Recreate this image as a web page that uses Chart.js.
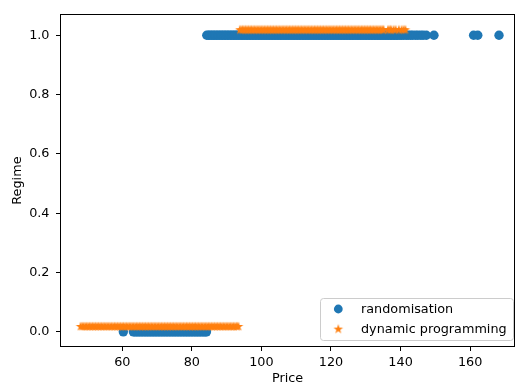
<!DOCTYPE html>
<html><head><meta charset="utf-8">
<style>html,body{margin:0;padding:0;background:#fff}#wrap{width:524px;height:389px;position:relative}</style>
<script src="https://cdn.jsdelivr.net/npm/chart.js@4.4.0/dist/chart.umd.min.js"></script>
</head><body><div id="wrap"><canvas id="c" width="524" height="389" style="width:524px;height:389px"></canvas></div>
<script>
// ---- data ----
const seriesNames = ['randomisation', 'dynamic programming'];
const xTicks = [60, 80, 100, 120, 140, 160];
const yTicks = [0.0, 0.2, 0.4, 0.6, 0.8, 1.0];

// randomisation: prices classified as regime 0 and regime 1
const randRegime0Price = [60.3, 63.2, 63.6, 64.1, 64.5, 65.0, 65.4, 65.9, 66.3, 66.8, 67.2, 67.7, 68.1, 68.6, 69.0, 69.5, 69.9, 70.4, 70.8, 71.3, 71.7, 72.2, 72.6, 73.1, 73.5, 74.0, 74.4, 74.9, 75.3, 75.8, 76.2, 76.7, 77.1, 77.6, 78.0, 78.5, 78.9, 79.4, 79.8, 80.3, 80.7, 81.2, 81.6, 82.1, 82.5, 83.0, 83.4, 83.9, 84.2];
const randRegime1Price = [84.3, 84.8, 85.2, 85.7, 86.1, 86.6, 87.0, 87.5, 87.9, 88.4, 88.8, 89.3, 89.7, 90.2, 90.6, 91.1, 91.5, 92.0, 92.4, 92.9, 93.3, 93.8, 94.2, 94.7, 95.1, 95.6, 96.0, 96.5, 96.9, 97.4, 97.8, 98.3, 98.7, 99.2, 99.6, 100.1, 100.5, 101.0, 101.4, 101.9, 102.3, 102.8, 103.2, 103.7, 104.1, 104.6, 105.0, 105.5, 105.9, 106.4, 106.8, 107.3, 107.7, 108.2, 108.6, 109.1, 109.5, 110.0, 110.4, 110.9, 111.3, 111.8, 112.2, 112.7, 113.1, 113.6, 114.0, 114.5, 114.9, 115.4, 115.8, 116.3, 116.7, 117.2, 117.6, 118.1, 118.5, 119.0, 119.4, 119.9, 120.3, 120.8, 121.2, 121.7, 122.1, 122.6, 123.0, 123.5, 123.9, 124.4, 124.8, 125.3, 125.7, 126.2, 126.6, 127.1, 127.5, 128.0, 128.4, 128.9, 129.3, 129.8, 130.2, 130.7, 131.1, 131.6, 132.0, 132.5, 132.9, 133.4, 133.8, 134.3, 134.7, 135.2, 135.6, 136.1, 136.5, 137.0, 137.4, 137.9, 138.3, 138.8, 139.2, 139.8, 140.3, 140.9, 141.6, 142.2, 142.9, 143.5, 144.3, 145.0, 145.8, 146.5, 147.4, 149.6, 161.0, 162.2, 168.3];
const randRegimeValues = [0, 1];

// dynamic programming: prices classified as regime 0 and regime 1 (plotted with +0.02 offset)
const dpRegime0Price = [48.0, 48.5, 48.9, 49.4, 49.8, 50.3, 50.7, 51.2, 51.6, 52.1, 52.5, 53.0, 53.4, 53.9, 54.3, 54.8, 55.2, 55.7, 56.1, 56.6, 57.0, 57.5, 57.9, 58.4, 58.8, 59.3, 59.7, 60.2, 60.6, 61.1, 61.5, 62.0, 62.4, 62.9, 63.3, 63.8, 64.2, 64.7, 65.1, 65.6, 66.0, 66.5, 66.9, 67.4, 67.8, 68.3, 68.7, 69.2, 69.6, 70.1, 70.5, 71.0, 71.4, 71.9, 72.3, 72.8, 73.2, 73.7, 74.1, 74.6, 75.0, 75.5, 75.9, 76.4, 76.8, 77.3, 77.7, 78.2, 78.6, 79.1, 79.5, 80.0, 80.4, 80.9, 81.3, 81.8, 82.2, 82.7, 83.1, 83.6, 84.0, 84.5, 84.9, 85.4, 85.8, 86.3, 86.7, 87.2, 87.6, 88.1, 88.5, 89.0, 89.4, 89.9, 90.3, 90.8, 91.2, 91.7, 92.1, 92.6, 93.0, 93.4];
const dpRegime1Price = [93.8, 94.3, 94.7, 95.2, 95.6, 96.1, 96.5, 97.0, 97.4, 97.9, 98.3, 98.8, 99.2, 99.7, 100.1, 100.6, 101.0, 101.5, 101.9, 102.4, 102.8, 103.3, 103.7, 104.2, 104.6, 105.1, 105.5, 106.0, 106.4, 106.9, 107.3, 107.8, 108.2, 108.7, 109.1, 109.6, 110.0, 110.5, 110.9, 111.4, 111.8, 112.3, 112.7, 113.2, 113.6, 114.1, 114.5, 115.0, 115.4, 115.9, 116.3, 116.8, 117.2, 117.7, 118.1, 118.6, 119.0, 119.5, 119.9, 120.4, 120.8, 121.3, 121.7, 122.2, 122.6, 123.1, 123.5, 124.0, 124.4, 124.9, 125.3, 125.8, 126.2, 126.7, 127.1, 127.6, 128.0, 128.5, 128.9, 129.4, 129.8, 130.3, 130.7, 131.2, 131.6, 132.1, 132.5, 133.0, 133.4, 133.9, 134.3, 134.8, 135.1, 136.4, 136.9, 137.3, 138.0, 138.6, 139.5, 140.3, 140.9, 141.4];
const dpRegimeValues = [0.02, 1.02];

const BLUE = '#1f77b4', ORANGE = '#ff7f0e';
const FONT = {family: "'DejaVu Sans', sans-serif", size: 12.8};

function pts(xs, y) { return xs.map(x => ({x: x, y: y})); }

// filled five-point star marker
function makeStar(R, color) {
  const s = Math.ceil(R * 2 + 4);
  const cv = document.createElement('canvas');
  cv.width = s; cv.height = s;
  const g = cv.getContext('2d');
  const c = s / 2, r = R * 0.4;
  g.beginPath();
  for (let i = 0; i < 10; i++) {
    const rad = i % 2 === 0 ? R : r;
    const a = -Math.PI / 2 + i * Math.PI / 5;
    const px = c + rad * Math.cos(a), py = c + 0.6 + rad * Math.sin(a);
    if (i === 0) g.moveTo(px, py); else g.lineTo(px, py);
  }
  g.closePath();
  g.fillStyle = color; g.fill();
  return cv;
}
const starImg = makeStar(5.0, ORANGE);

const framePlugin = {
  id: 'frameAndLegend',
  afterDraw(chart) {
    const ctx = chart.ctx, a = chart.chartArea;
    ctx.save();
    ctx.strokeStyle = '#000'; ctx.lineWidth = 1;
    ctx.strokeRect(Math.round(a.left) + 0.5, Math.round(a.top) + 0.5,
                   Math.round(a.right - a.left) - 1, Math.round(a.bottom - a.top) - 1);
    // legend
    const lx = 320.5, ly = 298.5, lw = 193, lh = 42, rr = 3;
    ctx.beginPath();
    ctx.moveTo(lx + rr, ly); ctx.lineTo(lx + lw - rr, ly); ctx.quadraticCurveTo(lx + lw, ly, lx + lw, ly + rr);
    ctx.lineTo(lx + lw, ly + lh - rr); ctx.quadraticCurveTo(lx + lw, ly + lh, lx + lw - rr, ly + lh);
    ctx.lineTo(lx + rr, ly + lh); ctx.quadraticCurveTo(lx, ly + lh, lx, ly + lh - rr);
    ctx.lineTo(lx, ly + rr); ctx.quadraticCurveTo(lx, ly, lx + rr, ly);
    ctx.closePath();
    ctx.fillStyle = 'rgba(255,255,255,0.8)'; ctx.fill();
    ctx.strokeStyle = '#cccccc'; ctx.stroke();
    const ds = chart.data.datasets;
    ctx.fillStyle = BLUE;
    ctx.beginPath(); ctx.arc(338.3, 309, 4.4, 0, Math.PI * 2); ctx.fill();
    ctx.drawImage(starImg, 338.3 - starImg.width / 2, 328.6 - starImg.height / 2);
    ctx.fillStyle = '#000';
    ctx.font = FONT.size + 'px ' + FONT.family;
    ctx.textBaseline = 'middle'; ctx.textAlign = 'left';
    ctx.fillText(ds[0].label, 361, 309.5);
    ctx.fillText(ds[1].label, 361, 329.5);
    ctx.restore();
  }
};

new Chart(document.getElementById('c'), {
  type: 'scatter',
  data: {
    datasets: [
      {
        label: seriesNames[0],
        data: pts(randRegime0Price, randRegimeValues[0]).concat(pts(randRegime1Price, randRegimeValues[1])),
        backgroundColor: BLUE, borderWidth: 0, pointRadius: 4.7, pointHoverRadius: 4.7, order: 1
      },
      {
        label: seriesNames[1],
        data: pts(dpRegime0Price, dpRegimeValues[0]).concat(pts(dpRegime1Price, dpRegimeValues[1])),
        pointStyle: starImg, backgroundColor: ORANGE, borderWidth: 0, pointRadius: 5.0, order: 0
      }
    ]
  },
  options: {
    responsive: false, animation: false,
    layout: {padding: {left: 0, right: 9, top: 5, bottom: 0}},
    plugins: {legend: {display: false}, tooltip: {enabled: false}},
    events: [],
    scales: {
      x: {
        type: 'linear', min: 42.1, max: 172.9,
        afterBuildTicks: s => { s.ticks = xTicks.map(v => ({value: v})); },
        afterFit: s => { s.height = 42; },
        ticks: {font: FONT, color: '#000', padding: 3.5, maxRotation: 0, callback: v => String(v)},
        grid: {display: true, drawOnChartArea: false, drawTicks: true, tickLength: 4, color: '#000', lineWidth: 1},
        border: {display: false},
        title: {display: true, text: 'Price', font: FONT, color: '#000', padding: {top: 0, bottom: 2.5}}
      },
      y: {
        type: 'linear', min: -0.051, max: 1.071,
        afterBuildTicks: s => { s.ticks = yTicks.map(v => ({value: v})); },
        afterFit: s => { s.width = 60; },
        ticks: {font: FONT, color: '#000', padding: 6.5, callback: v => Number(v).toFixed(1)},
        grid: {display: true, drawOnChartArea: false, drawTicks: true, tickLength: 4, color: '#000', lineWidth: 1},
        border: {display: false},
        title: {display: true, text: 'Regime', font: FONT, color: '#000', padding: {top: 10, bottom: 0}}
      }
    }
  },
  plugins: [framePlugin]
});
</script>
</body></html>
